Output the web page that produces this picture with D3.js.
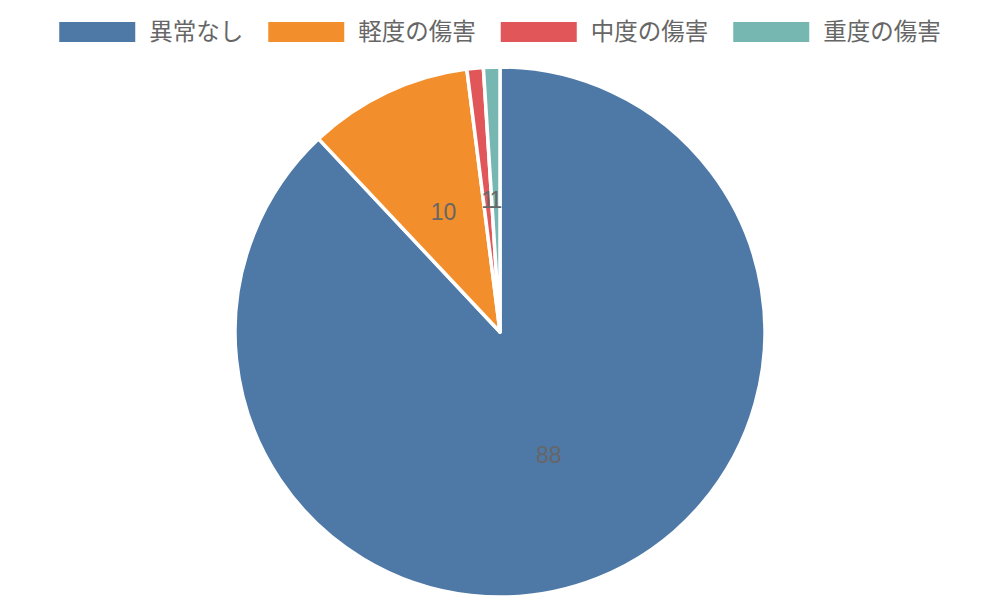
<!DOCTYPE html>
<html>
<head>
<meta charset="utf-8">
<script src="https://cdn.jsdelivr.net/npm/d3@7"></script>
<style>
  body { margin: 0; background: #fff; }
  svg text { font-family: "Liberation Sans", Arial, "Noto Sans CJK JP", sans-serif; fill: #666; }
</style>
</head>
<body>
<svg id="chart" width="1000" height="600"></svg>
<script>
// data
let categories = ['異常なし', '軽度の傷害', '中度の傷害', '重度の傷害']
let values = [88, 10, 1, 1]
let colors = ['#4e79a7', '#f28e2b', '#e15759', '#76b7b2']

let svg = d3.select('#chart')
let width = 1000
let height = 600

let cx = 500, cy = 332, radius = 265

let pie = d3.pie().sort(null).value(d => d)
let arc = d3.arc().innerRadius(0).outerRadius(radius)

let g = svg.append('g').attr('transform', `translate(${cx},${cy})`)

let arcs = pie(values)

g.selectAll('path')
    .data(arcs)
    .enter()
    .append('path')
    .attr('d', arc)
    .attr('fill', (d, i) => colors[i])
    .attr('stroke', '#fff')
    .attr('stroke-width', 3.5)
    .attr('stroke-linejoin', 'round')

// value labels at the arc centroid (the two small ones overlap, as in the original)
g.selectAll('text.val')
    .data(arcs)
    .enter()
    .append('text')
    .attr('class', 'val')
    .attr('transform', d => `translate(${arc.centroid(d)})`)
    .attr('text-anchor', 'middle')
    .attr('dy', '0.35em')
    .style('font-size', '23px')
    .text(d => d.data)

// legend
let boxW = 76, boxH = 20, gapBox = 14, gapItem = 25, legendY = 22
let legend = svg.append('g')
let items = legend.selectAll('g')
    .data(categories)
    .enter()
    .append('g')

items.append('rect')
    .attr('width', boxW)
    .attr('height', boxH)
    .attr('fill', (d, i) => colors[i])

items.append('text')
    .attr('x', boxW + gapBox)
    .attr('y', boxH / 2)
    .attr('dy', '0.36em')
    .style('font-size', '23.5px')
    .text(d => d)

let x = 0
items.each(function () {
    let w = boxW + gapBox + d3.select(this).select('text').node().getComputedTextLength()
    d3.select(this).attr('transform', `translate(${x},0)`)
    x += w + gapItem
})
let total = x - gapItem
legend.attr('transform', `translate(${(width - total) / 2},${legendY})`)
</script>
</body>
</html>
